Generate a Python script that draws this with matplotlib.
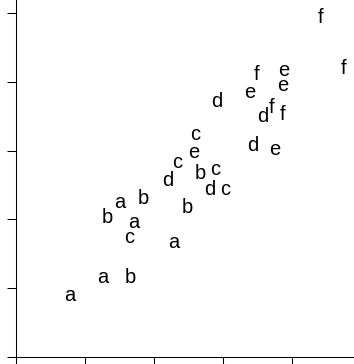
import matplotlib
matplotlib.use("Agg")
import matplotlib.pyplot as plt

# --- Datos: etiquetas y coordenadas de cada letra ---
letras = ["a", "a", "b", "a", "c", "a", "b", "a", "b", "b",
          "d", "c", "e", "c", "b", "c", "d", "c", "d", "e",
          "f", "e", "e", "f", "d", "f", "d", "e", "f", "f"]
x_vals = [0.78, 1.25, 1.65, 2.28, 1.64, 1.70, 1.33, 1.51, 1.84, 2.48,
          2.20, 2.33, 2.57, 2.59, 2.67, 2.88, 2.81, 3.03, 2.91, 3.39,
          3.48, 3.88, 3.87, 3.71, 3.57, 3.87, 3.43, 3.75, 4.41, 4.75]
y_vals = [0.90, 1.15, 1.16, 1.67, 1.73, 1.95, 2.03, 2.25, 2.30, 2.17,
          2.56, 2.83, 2.97, 3.23, 2.66, 2.72, 2.44, 2.43, 3.71, 3.84,
          4.11, 4.17, 3.95, 3.63, 3.49, 3.52, 3.07, 3.01, 4.94, 4.19]
x_ticks = [0, 1, 2, 3, 4]
y_ticks = [0, 1, 2, 3, 4, 5]

# --- Figura ---
fig = plt.figure(figsize=(3.54, 3.64), dpi=100)
ax = fig.add_axes([16 / 354, 7 / 364, 1 - 16 / 354, 1 - 7 / 364])

for letra, x, y in zip(letras, x_vals, y_vals):
    ax.text(x, y, letra, ha="center", va="center", fontsize=14.5,
            family="Liberation Sans", color="black")

ax.set_xlim(0, 338 / 69)
ax.set_ylim(0, 357 / 68.8)
ax.set_xticks(x_ticks)
ax.set_yticks(y_ticks)
ax.set_xticklabels([])
ax.set_yticklabels([])
ax.tick_params(direction="out", length=6.5, width=0.75, color="black")
ax.spines["top"].set_visible(False)
ax.spines["right"].set_visible(False)
for lado in ["left", "bottom"]:
    ax.spines[lado].set_linewidth(0.75)
    ax.spines[lado].set_color("black")

fig.savefig("out.png", dpi=100)
